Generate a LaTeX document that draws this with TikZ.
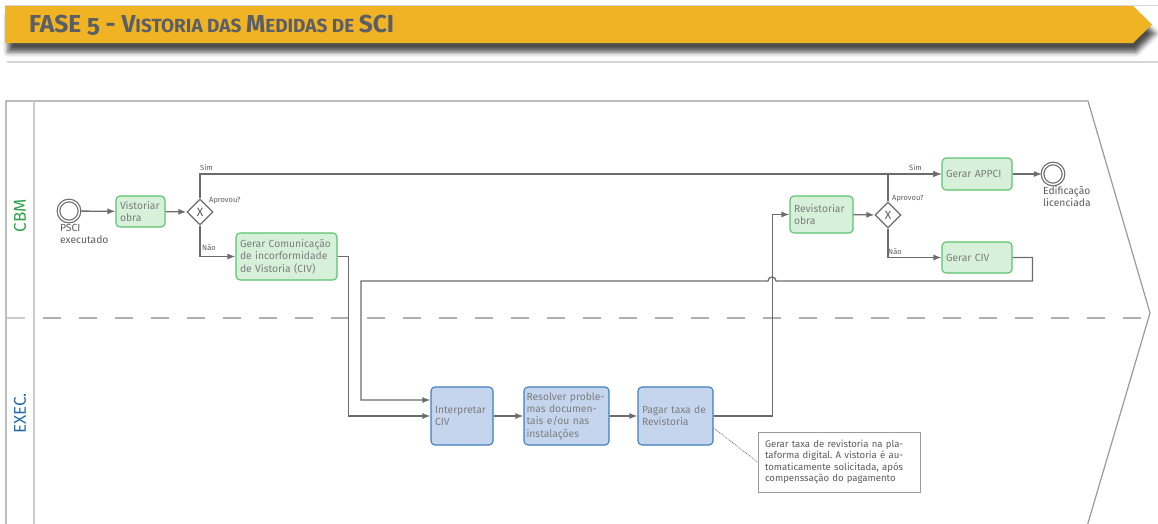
\documentclass[tikz,border=0pt]{standalone}
\usepackage{fontspec}
\setmainfont{Fira Sans}
\usetikzlibrary{arrows.meta,shapes.geometric,shadows.blur,calc}
\frenchspacing

\definecolor{banner}{HTML}{F0B324}
\definecolor{titlegray}{HTML}{5A5E66}
\definecolor{flowgray}{HTML}{6C6C6C}
\definecolor{poolgray}{HTML}{9A9A9A}
\definecolor{dashgray}{HTML}{AEAEAE}
\definecolor{lanegray}{HTML}{CBCBCB}
\definecolor{framegray}{HTML}{D6D6D6}
\definecolor{cbmgreen}{HTML}{2FA14B}
\definecolor{execblue}{HTML}{2B6BA3}
\definecolor{taskgreen}{HTML}{D6F0DA}
\definecolor{edgegreen}{HTML}{5CC26E}
\definecolor{taskblue}{HTML}{C4D5ED}
\definecolor{edgeblue}{HTML}{3E7EBF}
\definecolor{tasktext}{HTML}{7E7E7E}
\definecolor{labeltext}{HTML}{5C5C5C}

\tikzset{
  task/.style={rectangle, rounded corners=4pt, line width=1.1pt, inner xsep=4pt,
    inner ysep=2pt, align=left, text=tasktext, font=\fontsize{10.3}{12.3}\selectfont},
  cbmtask/.style={task, fill=taskgreen, draw=edgegreen},
  exectask/.style={task, fill=taskblue, draw=edgeblue},
  gateway/.style={diamond, draw=flowgray, fill=white, line width=1.3pt, inner sep=0pt,
    minimum width=26pt, minimum height=26pt, text=labeltext, font=\fontsize{12}{12}\selectfont},
  event/.style={circle, draw=flowgray, fill=white, line width=1.2pt, minimum size=21pt,
    inner sep=0pt, double=white, double distance=1.4pt},
  flow/.style={draw=flowgray, line width=1.3pt, -{Latex[length=8pt,width=6pt]}},
  flowlabel/.style={inner sep=0pt, text=labeltext, font=\fontsize{7.5}{9}\selectfont},
  evlabel/.style={inner sep=0pt, align=left, text=labeltext, font=\fontsize{10.3}{12}\selectfont},
  lanelabel/.style={rotate=90, inner sep=0pt, font=\fontsize{17}{17}\selectfont},
  annot/.style={rectangle, draw=poolgray, fill=white, line width=0.9pt, align=left,
    inner xsep=7pt, text=labeltext, font=\fontsize{9.6}{11.4}\selectfont},
}

\begin{document}
\begin{tikzpicture}[x=1pt,y=-1pt]
\useasboundingbox (0,0) rectangle (1158,523);

% header band
\draw[framegray, line width=1pt] (5,5) -- (1158,5);
\draw[framegray, line width=1.2pt] (7,62) -- (1158,62);
\fill[banner, blur shadow={shadow xshift=3pt, shadow yshift=-9pt, shadow blur radius=5pt, shadow opacity=70}]
  (5,6) -- (1133,6) -- (1152,24.5) -- (1133,43) -- (5,43) -- cycle;
\node[anchor=base west, inner sep=0pt, text=titlegray, font=\bfseries] (title) at (29,32)
  {\fontsize{24.5}{24}\selectfont FASE {\addfontfeatures{Numbers=OldStyle}5} - V\fontsize{19}{18}\selectfont ISTORIA DAS \fontsize{24.5}{24}\selectfont M\fontsize{19}{18}\selectfont EDIDAS DE \fontsize{24.5}{24}\selectfont SCI};

% pool and lanes
\draw[poolgray, line width=1.2pt] (6,540) -- (6,101) -- (1088,101) -- (1150,313) -- (1083,540);
\draw[lanegray, line width=1.5pt] (34,101) -- (34,540);
\draw[lanegray, line width=1.3pt] (7,318) -- (25,318);
\draw[dashgray, line width=1.3pt, dash pattern=on 18pt off 18pt] (43,318) -- (1149,318);
\node[lanelabel, text=cbmgreen] (cbm) at (20,215.5) {CBM};
\node[lanelabel, text=execblue] (exec) at (20,413.5) {EXEC.};

% CBM lane
\node[event] (start) at (69,211) {};
\node[evlabel, anchor=north west] (startlbl) at (60,224) {PSCI\\executado};
\node[cbmtask, minimum width=49pt, minimum height=31pt, text width=41pt] (vist) at (140.5,211.5) {Vistoriar\\obra};
\node[gateway] (gw1) at (200,212) {X};
\node[cbmtask, minimum width=101pt, minimum height=47pt, text width=93pt] (gcom) at (286.5,256.5) {Gerar Comunicação\\de incorformidade\\de Vistoria (CIV)};
\node[cbmtask, minimum width=63pt, minimum height=37pt, text width=55pt] (revist) at (821.5,214.5) {Revistoriar\\obra};
\node[gateway] (gw2) at (888,215) {X};
\node[cbmtask, minimum width=70pt, minimum height=32pt, text width=62pt] (appci) at (977,174) {Gerar APPCI};
\node[cbmtask, minimum width=70pt, minimum height=31pt, text width=62pt] (gciv) at (977,257.5) {Gerar CIV};
\node[event] (end) at (1053,174) {};
\node[evlabel, anchor=north west] (endlbl) at (1043,186) {Edificação\\licenciada};

% EXEC lane
\node[exectask, minimum width=62pt, minimum height=58pt, text width=54pt] (interp) at (462,416) {Interpretar\\CIV};
\node[exectask, inner xsep=2.5pt, minimum width=85pt, minimum height=58pt, text width=80pt] (resolv) at (566.5,416) {Resolver proble-\\mas documen-\\tais e/ou nas\\instalações};
\node[exectask, minimum width=75pt, minimum height=58pt, text width=67pt] (pagar) at (675.5,416) {Pagar taxa de\\Revistoria};
\node[annot, minimum width=162pt, minimum height=60pt, text width=148pt] (note) at (839,462)
  {Gerar taxa de revistoria na pla-\\taforma digital. A vistoria é au-\\tomaticamente solicitada, após\\compenssação do pagamento};

% gateway labels
\node[flowlabel, anchor=west] (sim1) at (200,167.5) {Sim};
\node[flowlabel, anchor=west] (apr1) at (209,200.5) {Aprovou?};
\node[flowlabel, anchor=west] (nao1) at (202,248) {Não};
\node[flowlabel, anchor=west] (sim2) at (909,168) {Sim};
\node[flowlabel, anchor=west] (apr2) at (892,199) {Aprovou?};
\node[flowlabel, anchor=west] (nao2) at (888,251.5) {Não};

% sequence flows
\draw[flow] (start) -- (vist);
\draw[flow] (vist) -- (gw1);
\draw[flow] (gw1.north) |- (appci.west);
\draw[flow] (gw1.south) |- (gcom.west);
\draw[flow] (gcom.east) -- ++(11,0) |- (interp.west);
\coordinate (hopR) at (776,281);
\coordinate (backL) at (361,281);
\draw[flow] (gciv.east) -- ++(20,0) |- (hopR) arc[start angle=0, end angle=-180, radius=4]
  -- (backL) |- ($(interp.west)+(0,-16)$);
\draw[flow] (interp) -- (resolv);
\draw[flow] (resolv) -- (pagar);
\draw[flow] (pagar.east) -- ++(59,0) |- (revist.west);
\draw[flow] (revist) -- (gw2);
\draw[flow] (gw2.north) |- (appci.west);
\draw[flow] (gw2.south) |- (gciv.west);
\draw[flow] (appci) -- (end);

% association to the annotation
\draw[flowgray, line width=0.8pt, densely dotted] ($(pagar.east)+(0,12)$) -- (note.west);
\end{tikzpicture}
\end{document}
